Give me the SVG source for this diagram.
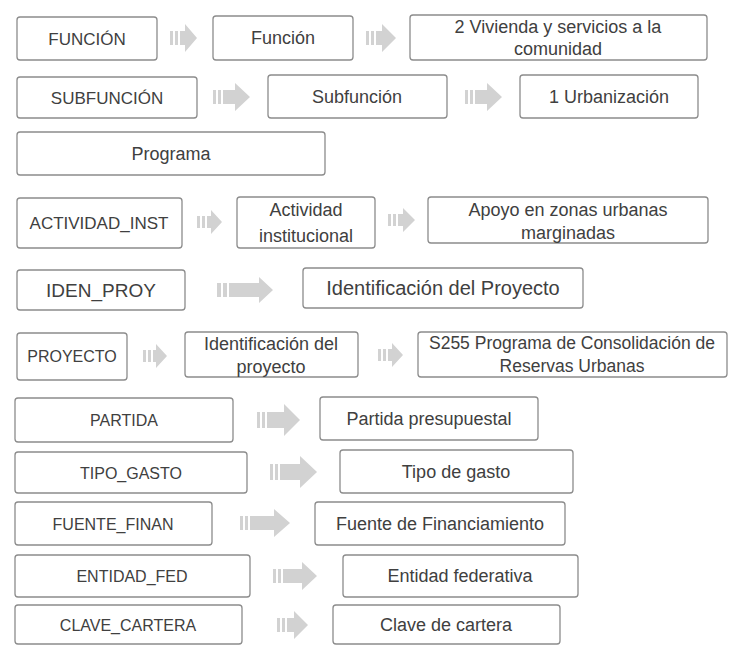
<svg xmlns="http://www.w3.org/2000/svg" width="730" height="645" viewBox="0 0 730 645">
<style>
.box{fill:#ffffff;stroke:#8c8c8c;stroke-width:1.3}
.t{font-family:"Liberation Sans","Open Sans",sans-serif;font-size:18px;fill:#404040;text-anchor:middle;dominant-baseline:central}
.u{font-size:16px}
.arr{fill:#d2d2d2}
</style>
<rect width="730" height="645" fill="#ffffff"/>
<g id="connectors">
<path class="arr" d="M170,31h3v14h-3z M175,31h3v14h-3z M180,31h5v-7l12,14l-12,14v-7h-5z"/>
<path class="arr" d="M366,31h3v14h-3z M371,31h3v14h-3z M376,31h6v-7l14,14l-14,14v-7h-6z"/>
<path class="arr" d="M213,90h3v14h-3z M218,90h3v14h-3z M223,90h12v-7l15,14l-15,14v-7h-12z"/>
<path class="arr" d="M465,90h3v14h-3z M470,90h3v14h-3z M475,90h12v-7l15,14l-15,14v-7h-12z"/>
<path class="arr" d="M197,216h3v12h-3z M202,216h3v12h-3z M207,216h4v-6l11,12l-11,12v-6h-4z"/>
<path class="arr" d="M388,214h3v12h-3z M393,214h3v12h-3z M398,214h5v-6l12,12l-12,12v-6h-5z"/>
<path class="arr" d="M217,283h4v14h-4z M223,283h4v14h-4z M229,283h30v-6l14,13l-14,13v-6h-30z"/>
<path class="arr" d="M143,350h3v12h-3z M148,350h3v12h-3z M153,350h3v-6l11,12l-11,12v-6h-3z"/>
<path class="arr" d="M378,349h3v12h-3z M383,349h3v12h-3z M388,349h4v-6l11,12l-11,12v-6h-4z"/>
<path class="arr" d="M257,412h3v16h-3z M262,412h3v16h-3z M267,412h17v-8l16,16l-16,16v-8h-17z"/>
<path class="arr" d="M270,464h3v16h-3z M275,464h3v16h-3z M280,464h20v-8l17,16l-17,16v-8h-20z"/>
<path class="arr" d="M240,516h3v14h-3z M245,516h3v14h-3z M250,516h24v-7l16,14l-16,14v-7h-24z"/>
<path class="arr" d="M273,569h3v14h-3z M278,569h3v14h-3z M283,569h19v-7l15,14l-15,14v-7h-19z"/>
<path class="arr" d="M277,618h3v14h-3z M282,618h3v14h-3z M287,618h7v-7l14,14l-14,14v-7h-7z"/>
</g>
<g id="n1"><rect class="box" x="17" y="17" width="140" height="43" rx="3"/><text class="t" x="87" y="39" style="font-size:17px">FUNCIÓN</text></g>
<g id="n2"><rect class="box" x="213" y="16" width="140" height="44" rx="3"/><text class="t" x="283" y="38">Función</text></g>
<g id="n3"><rect class="box" x="410" y="15" width="297" height="45" rx="3"/><text class="t" x="558" y="27">2 Vivienda y servicios a la</text><text class="t" x="558" y="49">comunidad</text></g>
<g id="n4"><rect class="box" x="17" y="77" width="180" height="41" rx="3"/><text class="t" x="107" y="98" style="font-size:17px">SUBFUNCIÓN</text></g>
<g id="n5"><rect class="box" x="268" y="75" width="179" height="43" rx="3"/><text class="t" x="357" y="97">Subfunción</text></g>
<g id="n6"><rect class="box" x="520" y="75" width="178" height="43" rx="3"/><text class="t" x="609" y="97">1 Urbanización</text></g>
<g id="n7"><rect class="box" x="17" y="132" width="308" height="43" rx="3"/><text class="t" x="171" y="154">Programa</text></g>
<g id="n8"><rect class="box" x="17" y="198" width="165" height="50" rx="3"/><text class="t" x="99" y="223" style="font-size:17px">ACTIVIDAD_INST</text></g>
<g id="n9"><rect class="box" x="237" y="197" width="138" height="51" rx="3"/><text class="t" x="306" y="210">Actividad</text><text class="t" x="306" y="236">institucional</text></g>
<g id="n10"><rect class="box" x="428" y="197" width="280" height="46" rx="3"/><text class="t" x="568" y="210">Apoyo en zonas urbanas</text><text class="t" x="568" y="233">marginadas</text></g>
<g id="n11"><rect class="box" x="17" y="270" width="168" height="40" rx="3"/><text class="t" x="101" y="290" style="font-size:19px">IDEN_PROY</text></g>
<g id="n12"><rect class="box" x="303" y="268" width="280" height="40" rx="3"/><text class="t" x="443" y="288" style="font-size:20px">Identificación del Proyecto</text></g>
<g id="n13"><rect class="box" x="17" y="333" width="110" height="47" rx="3"/><text class="t u" x="72" y="356">PROYECTO</text></g>
<g id="n14"><rect class="box" x="185" y="332" width="173" height="45" rx="3"/><text class="t" x="271" y="344">Identificación del</text><text class="t" x="271" y="367">proyecto</text></g>
<g id="n15"><rect class="box" x="418" y="332" width="309" height="45" rx="3"/><text class="t" x="572" y="343" style="font-size:17.5px">S255 Programa de Consolidación de</text><text class="t" x="572" y="366" style="font-size:17.5px">Reservas Urbanas</text></g>
<g id="n16"><rect class="box" x="15" y="398" width="218" height="44" rx="3"/><text class="t u" x="124" y="420">PARTIDA</text></g>
<g id="n17"><rect class="box" x="320" y="397" width="218" height="43" rx="3"/><text class="t" x="429" y="419">Partida presupuestal</text></g>
<g id="n18"><rect class="box" x="15" y="452" width="232" height="41" rx="3"/><text class="t u" x="131" y="473">TIPO_GASTO</text></g>
<g id="n19"><rect class="box" x="340" y="450" width="233" height="43" rx="3"/><text class="t" x="456" y="472">Tipo de gasto</text></g>
<g id="n20"><rect class="box" x="15" y="502" width="197" height="43" rx="3"/><text class="t u" x="113" y="524">FUENTE_FINAN</text></g>
<g id="n21"><rect class="box" x="315" y="502" width="250" height="43" rx="3"/><text class="t" x="440" y="524">Fuente de Financiamiento</text></g>
<g id="n22"><rect class="box" x="15" y="555" width="235" height="42" rx="3"/><text class="t u" x="132" y="576">ENTIDAD_FED</text></g>
<g id="n23"><rect class="box" x="343" y="555" width="235" height="42" rx="3"/><text class="t" x="460" y="576">Entidad federativa</text></g>
<g id="n24"><rect class="box" x="15" y="605" width="227" height="39" rx="3"/><text class="t u" x="128" y="625">CLAVE_CARTERA</text></g>
<g id="n25"><rect class="box" x="333" y="605" width="227" height="39" rx="3"/><text class="t" x="446" y="625">Clave de cartera</text></g>
</svg>
